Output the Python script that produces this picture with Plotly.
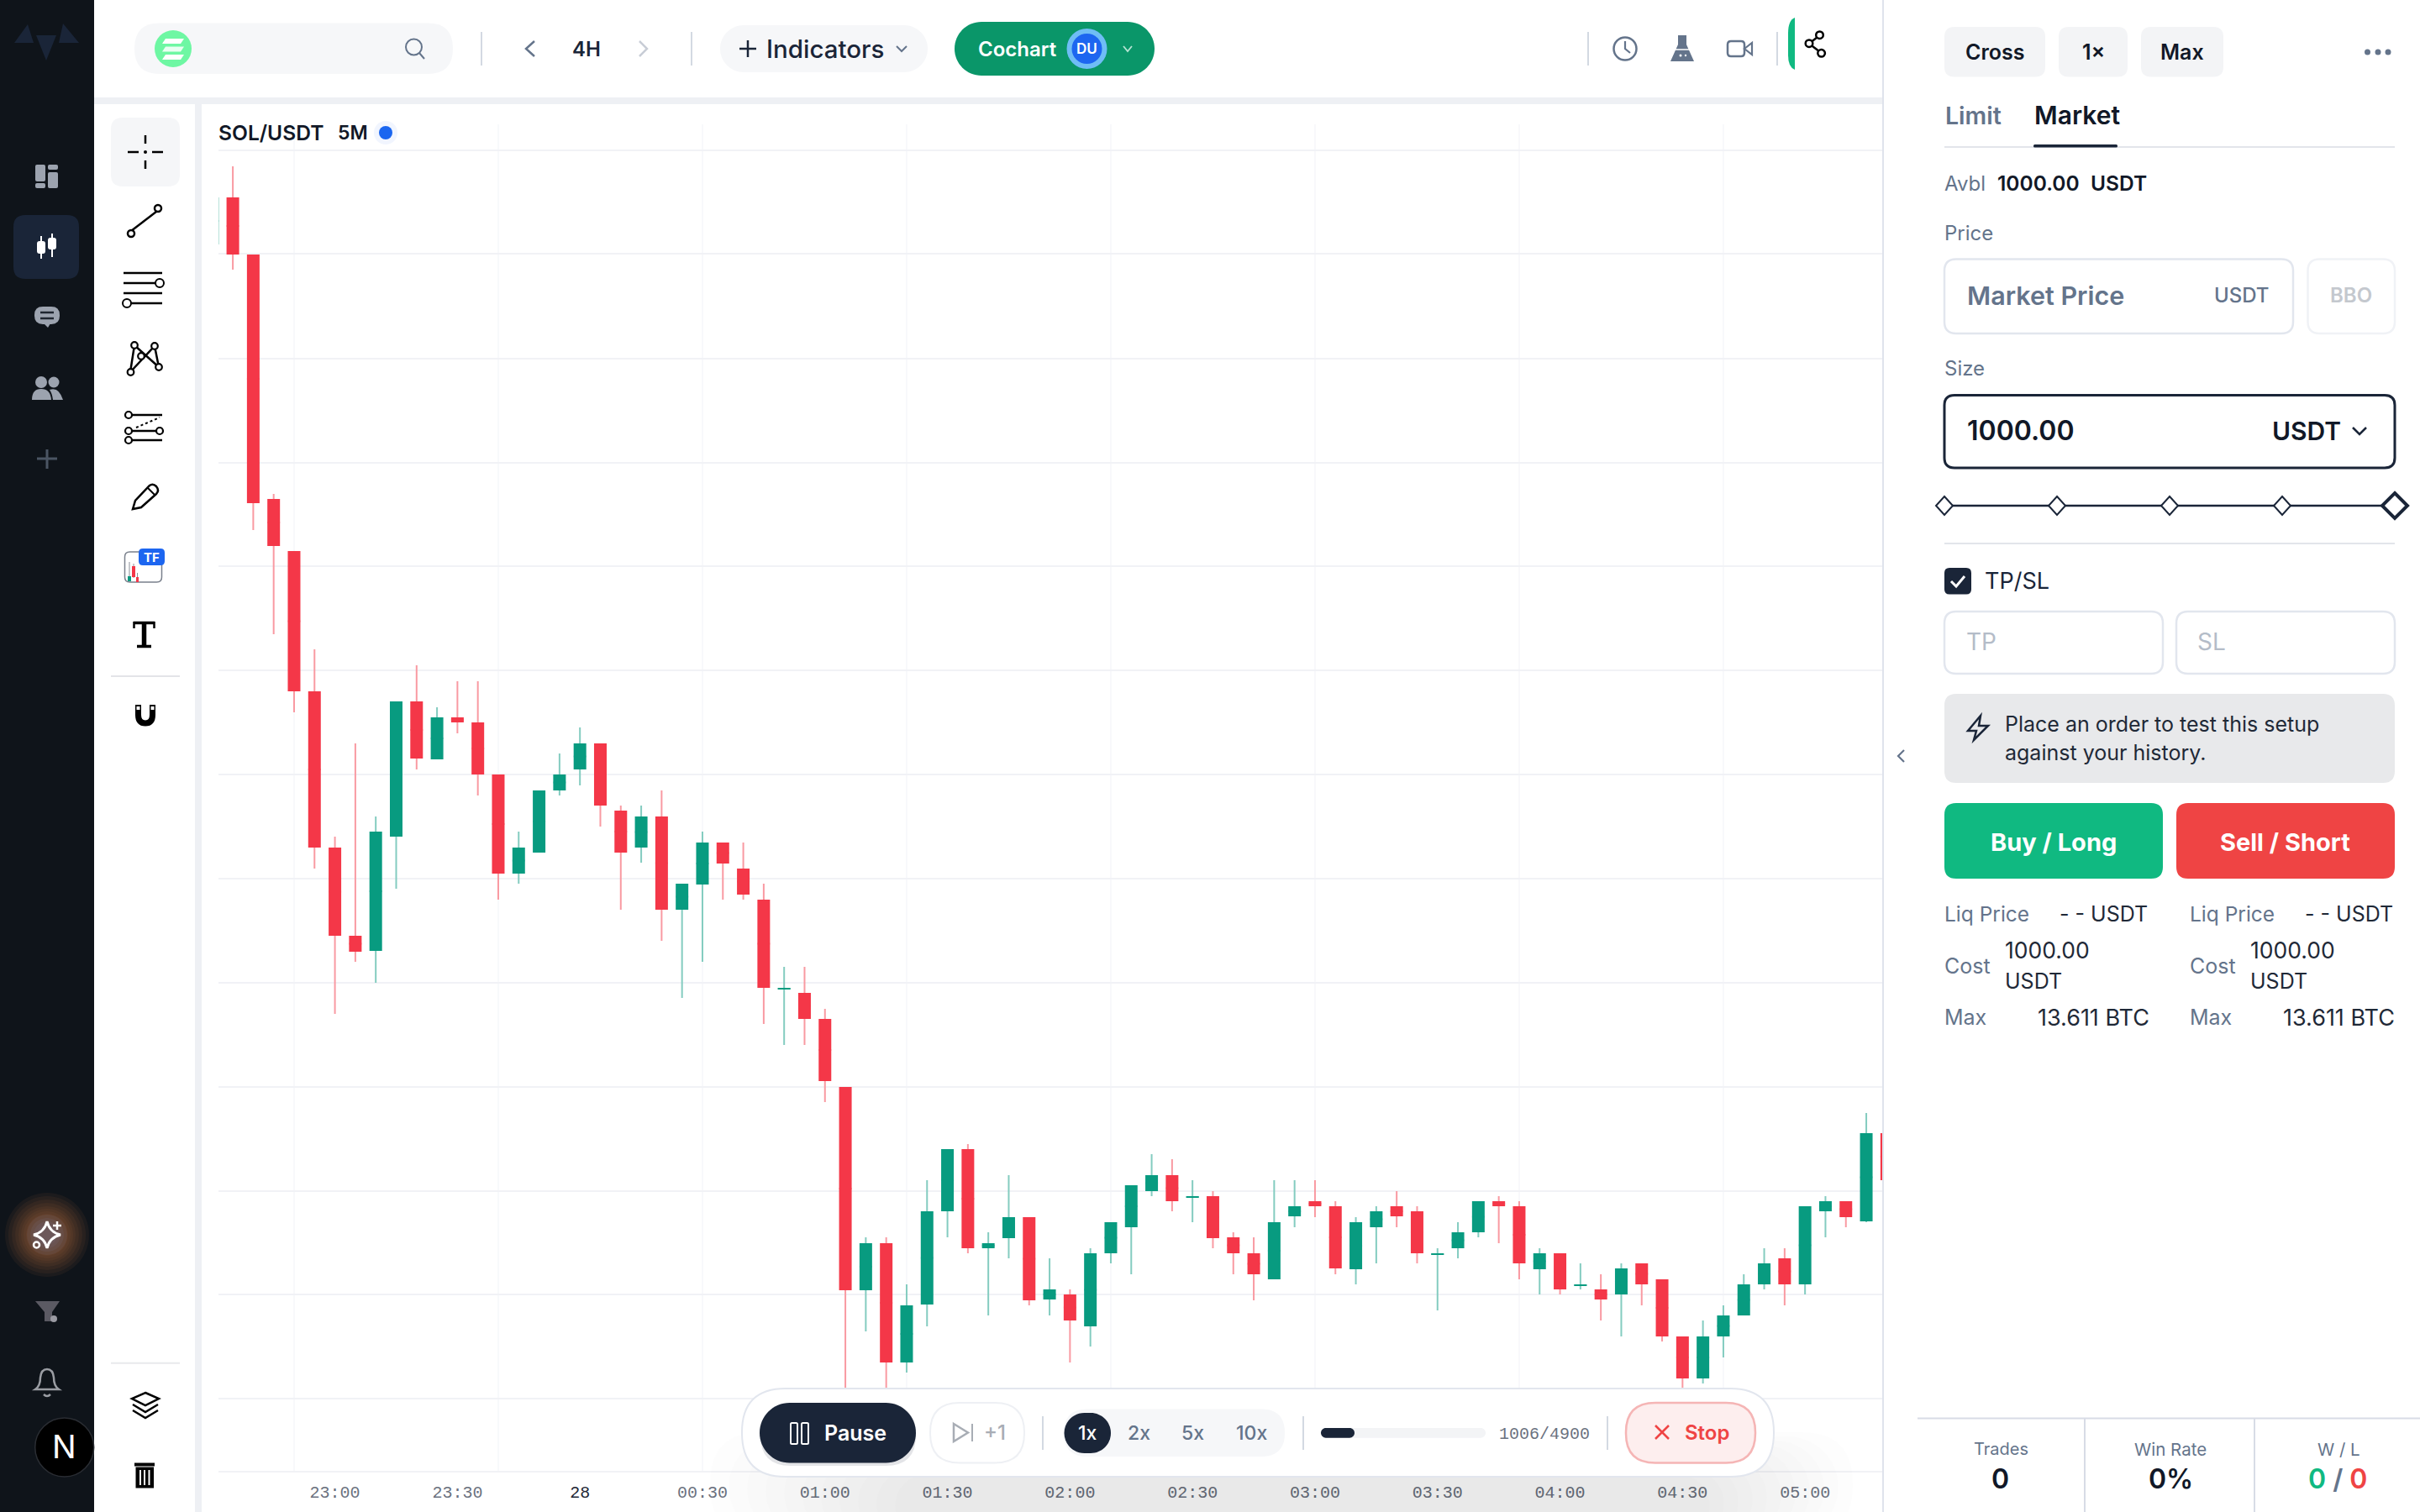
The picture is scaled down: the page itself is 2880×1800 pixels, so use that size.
import re
import pandas as pd
import plotly.graph_objects as go

W, H = 2880, 1800

# ---------- chart data ----------
start_time = "2025-01-27 22:30"
opens = [197.09,197.65,196.97,194.06,193.44,191.77,189.91,188.86,188.68,190.04,191.65,190.96,191.46,191.40,190.78,189.60,189.85,190.59,190.84,191.15,190.35,189.91,190.28,189.17,189.47,189.97,189.66,189.29,188.22,188.18,187.87,187.06,184.64,185.20,183.78,184.47,185.58,186.32,185.14,185.26,185.51,184.53,184.59,184.21,185.08,185.39,185.82,186.01,185.74,185.76,185.27,185.08,184.77,185.52,185.70,185.64,184.89,185.39,185.64,185.58,185.06,185.14,185.33,185.70,185.64,184.89,185.08,184.69,184.65,184.59,184.96,184.77,184.09,183.59,184.09,184.34,184.71,185.02,184.71,185.58,185.70,185.46,186.51]
highs = [197.65,198.02,196.97,194.12,193.44,192.27,190.04,191.15,190.28,191.65,192.08,191.58,191.89,191.89,190.78,190.10,190.59,191.03,191.34,191.15,190.41,190.41,190.59,189.48,190.10,189.97,189.97,189.48,188.49,188.49,187.99,187.06,185.27,185.27,184.71,185.95,186.32,186.38,185.33,186.01,185.51,185.02,184.65,185.14,185.45,185.89,186.26,186.20,185.95,185.82,185.33,185.27,185.95,185.95,185.95,185.70,185.51,185.64,185.82,185.64,185.14,185.45,185.70,185.76,185.70,185.14,185.08,184.96,184.83,184.96,184.96,184.77,184.09,184.28,184.46,184.83,185.14,185.14,185.64,185.76,185.70,186.75,186.51]
lows = [197.09,196.79,193.69,192.45,191.52,189.66,187.93,188.55,188.30,189.42,190.84,190.96,191.27,190.53,189.29,189.48,189.85,190.53,190.65,190.16,189.17,189.73,188.80,188.12,188.55,189.29,189.29,187.81,187.56,187.56,186.88,183.30,184.15,183.40,183.66,184.21,185.27,185.08,184.34,185.02,184.46,184.34,183.78,183.97,184.96,184.83,185.76,185.58,185.45,185.14,184.83,184.52,184.77,185.39,185.51,184.83,184.71,184.96,185.39,184.96,184.40,185.02,185.27,185.20,184.77,184.59,184.59,184.65,184.28,184.09,184.46,184.03,183.40,183.53,183.84,184.34,184.65,184.46,184.59,185.27,185.39,185.45,185.95]
closes = [197.65,196.97,194.01,193.50,191.77,189.91,188.86,188.67,190.10,191.65,190.97,191.46,191.40,190.78,189.60,189.91,190.59,190.78,191.15,190.41,189.85,190.28,189.17,189.48,189.97,189.72,189.35,188.24,188.24,187.87,187.13,184.64,185.20,183.78,184.46,185.58,186.32,185.14,185.20,185.51,184.52,184.65,184.28,185.08,185.45,185.89,186.01,185.70,185.76,185.26,185.08,184.83,185.45,185.64,185.64,184.90,185.45,185.58,185.52,185.08,185.08,185.33,185.70,185.64,184.96,185.08,184.65,184.71,184.53,184.90,184.71,184.09,183.59,184.09,184.34,184.71,184.96,184.71,185.64,185.70,185.51,186.51,185.95]
price_grid = [198.21,196.98,195.73,194.49,193.26,192.02,190.78,189.54,188.30,187.06,185.82,184.59,183.35,182.48]
time_grid = ["2025-01-27 22:50","2025-01-27 23:40","2025-01-28 00:30","2025-01-28 01:20","2025-01-28 02:10","2025-01-28 03:00","2025-01-28 03:50","2025-01-28 04:40"]
tick_times = ["2025-01-27 23:00","2025-01-27 23:30","2025-01-28 00:00","2025-01-28 00:30","2025-01-28 01:00","2025-01-28 01:30","2025-01-28 02:00","2025-01-28 02:30","2025-01-28 03:00","2025-01-28 03:30","2025-01-28 04:00","2025-01-28 04:30","2025-01-28 05:00"]
tick_labels = ["23:00","23:30",'<span style="color:#1f2937">28</span>',"00:30","01:00","01:30","02:00","02:30","03:00","03:30","04:00","04:30","05:00"]
times = [t.strftime("%Y-%m-%d %H:%M") for t in pd.date_range(start_time, periods=len(opens), freq="5min")]
body_mid = [(o + c) / 2 for o, c in zip(opens, closes)]

UP = "#089B80"
DOWN = "#F43748"
UP_WICK = "#84CCC0"
DOWN_WICK = "#F99AA2"
INK = "#1A2538"
SLATE = "#64748B"
LINE = "#E2E6EE"
SOFT = "#F6F7F9"
FONT = "Inter"

def fx(x): return x / W
def fy(y): return 1 - y / H

shapes = []
annots = []

def path_conv(d):
    toks = re.findall(r"[A-Za-z]|-?\d+\.?\d*", d)
    out, i = [], 0
    for t in toks:
        if t.isalpha():
            out.append(t)
        else:
            out.append(f"{fx(float(t)):.6f}" if i % 2 == 0 else f"{fy(float(t)):.6f}")
            i += 1
    return " ".join(out)

def PATH(d, fill=None, line=None, lw=0, layer="above"):
    shapes.append(dict(type="path", xref="paper", yref="paper", path=path_conv(d), layer=layer,
                       fillcolor=fill or "rgba(0,0,0,0)", line=dict(color=line or "rgba(0,0,0,0)", width=lw)))

def RECT(x0, y0, x1, y1, fill=None, line=None, lw=0):
    shapes.append(dict(type="rect", xref="paper", yref="paper", x0=fx(x0), x1=fx(x1), y0=fy(y1), y1=fy(y0), layer="above",
                       fillcolor=fill or "rgba(0,0,0,0)", line=dict(color=line or "rgba(0,0,0,0)", width=lw)))

def RR(x0, y0, x1, y1, r, fill=None, line=None, lw=0):
    r = min(r, (x1 - x0) / 2, (y1 - y0) / 2)
    d = (f"M {x0+r} {y0} L {x1-r} {y0} Q {x1} {y0} {x1} {y0+r} L {x1} {y1-r} Q {x1} {y1} {x1-r} {y1} "
         f"L {x0+r} {y1} Q {x0} {y1} {x0} {y1-r} L {x0} {y0+r} Q {x0} {y0} {x0+r} {y0} Z")
    if r >= (y1 - y0) / 2 - 0.01:
        k = 0.5523 * r
        d = (f"M {x0+r} {y0} L {x1-r} {y0} C {x1-r+k} {y0} {x1} {y0+r-k} {x1} {y0+r} C {x1} {y1-r+k} {x1-r+k} {y1} {x1-r} {y1} "
             f"L {x0+r} {y1} C {x0+r-k} {y1} {x0} {y1-r+k} {x0} {y0+r} C {x0} {y0+r-k} {x0+r-k} {y0} {x0+r} {y0} Z")
    PATH(d, fill, line, lw)

def CIRC(cx, cy, r, fill=None, line=None, lw=0):
    shapes.append(dict(type="circle", xref="paper", yref="paper", x0=fx(cx - r), x1=fx(cx + r), y0=fy(cy + r), y1=fy(cy - r), layer="above",
                       fillcolor=fill or "rgba(0,0,0,0)", line=dict(color=line or "rgba(0,0,0,0)", width=lw)))

def LN(x0, y0, x1, y1, color, lw=2, dash=None):
    ln = dict(color=color, width=lw)
    if dash: ln["dash"] = dash
    shapes.append(dict(type="line", xref="paper", yref="paper", x0=fx(x0), x1=fx(x1), y0=fy(y0), y1=fy(y1), layer="above", line=ln))

def TXT(x, y, s, size=24, color=INK, weight=400, anchor="left", font=FONT):
    annots.append(dict(xref="paper", yref="paper", x=fx(x), y=fy(y), text=s, showarrow=False, xanchor=anchor, yanchor="middle",
                       font=dict(family=font, size=size, color=color, weight=weight), borderpad=0, borderwidth=0))

# ---------- vertical grid, from the time list, on the chart's own axis ----------
for t in time_grid:
    shapes.append(dict(type="line", xref="x", yref="paper", x0=t, x1=t, y0=fy(1752), y1=fy(148), layer="below",
                       line=dict(color="#F6F7FA", width=1.5)))

# ---------- page frame ----------
RECT(0, 0, 112, 1800, fill="#0F141A")
RECT(112, 116, 2240, 124, fill="#EEF0F4")
RECT(232, 124, 240, 1800, fill="#EEF0F4")
RECT(2240, 0, 2242, 1800, fill="#DFE3EC")

# soft shadow of the replay bar
for k in range(11):
    RR(845 + k * 22, 1705 + k * 5, 2205 - k * 17, 1830, 60, fill="rgba(40,45,60,0.0095)")

# ---------- left sidebar ----------
for d in ["M 43 42 L 67 42 L 55 72 Z", "M 17 51 L 40 51 L 33 29 Z", "M 70 51 L 94 51 L 75 28 Z"]:
    PATH(d, fill="#1A2538")
RR(42, 196, 54, 216, 2, fill="#9CA3AF"); RR(42, 218, 54, 224, 2, fill="#9CA3AF")
RR(57, 196, 69, 202, 2, fill="#9CA3AF"); RR(57, 205, 69, 224, 2, fill="#9CA3AF")
RR(16, 256, 94, 332, 14, fill="#1A2538")
LN(49, 281, 49, 308, "#FFFFFF", 2); RR(44, 287, 54, 302, 3, fill="#FFFFFF")
LN(62, 278, 62, 306, "#FFFFFF", 2); RR(57, 283, 67, 297, 3, fill="#FFFFFF")
RR(41, 365, 71, 386, 10, fill="#9CA3AF"); PATH("M 52 385 L 60 385 L 57 390 Z", fill="#9CA3AF")
LN(48, 372, 64, 372, "#1F2630", 2.5); LN(48, 379, 64, 379, "#1F2630", 2.5)
CIRC(49, 455, 7, fill="#9CA3AF"); CIRC(64, 455, 6.5, fill="#9CA3AF")
PATH("M 38 476 Q 38 463 49 463 Q 60 463 61 476 Z", fill="#9CA3AF")
PATH("M 63 476 Q 62 468 59 464 Q 70 460 75 476 Z", fill="#9CA3AF")
LN(56, 535, 56, 558, "#4B5563", 3); LN(44, 546, 68, 546, "#4B5563", 3)
for r in [50, 46, 42, 38, 34, 31, 28, 25]:
    CIRC(56, 1470, r, fill="rgba(195,115,65,0.075)")
for r in [24, 20, 16, 12]:
    CIRC(56, 1470, r, fill="rgba(120,110,135,0.17)")
PATH("M 56 1454 Q 59 1467 72 1470 Q 59 1473 56 1486 Q 53 1473 40 1470 Q 53 1467 56 1454 Z", line="#FFFFFF", lw=3)
LN(68, 1454, 68, 1464, "#FFFFFF", 2.5); LN(63, 1459, 73, 1459, "#FFFFFF", 2.5)
CIRC(43.5, 1482, 3.5, line="#FFFFFF", lw=2.5)
PATH("M 42 1549 L 71 1549 L 62 1562 L 62 1573 L 53 1573 L 53 1562 Z", fill="#5B5A63")
CIRC(64, 1570, 4, fill="#9A9AA2")
PATH("M 42 1654 Q 48 1650 48 1640 Q 49 1630 56 1630 Q 63 1630 64 1640 Q 64 1650 70 1654 Z", line="#9A9DA3", lw=2.5)
PATH("M 52 1660 Q 56 1664 60 1660", line="#9A9DA3", lw=2.5)
CIRC(76.7, 1723, 35, fill="#000000", line="#2A2D33", lw=1.5)
TXT(76, 1722, "N", 38, "#FFFFFF", 400, "center")

# ---------- drawing toolbar ----------
BK = "#000000"
RR(132, 140, 214, 222, 14, fill="#F5F6F8")
LN(173, 161, 173, 171, BK, 2.5); LN(173, 191, 173, 201, BK, 2.5)
LN(152, 181, 165, 181, BK, 2.5); LN(181, 181, 194, 181, BK, 2.5); CIRC(173, 181, 2, fill=BK)
LN(156, 275, 186, 252, BK, 2.5)
CIRC(156, 278, 4, fill="#FFFFFF", line=BK, lw=2.5); CIRC(188, 248, 4, fill="#FFFFFF", line=BK, lw=2.5)
LN(147, 325, 193, 325, BK, 2.5); LN(147, 337, 186, 337, BK, 2.5); LN(147, 349, 193, 349, BK, 2.5); LN(156, 361, 193, 361, BK, 2.5)
CIRC(190, 337, 5, fill="#FFFFFF", line=BK, lw=2); CIRC(151, 361, 5, fill="#FFFFFF", line=BK, lw=2)
PATH("M 155 443 L 160 411 L 189 437 L 184 412 L 155 443", line=BK, lw=2.5)
for cx, cy in [(155.5, 443), (160, 411), (184, 412), (189, 437), (168, 424)]:
    CIRC(cx, cy, 3.8, fill="#FFFFFF", line=BK, lw=2.2)
LN(157, 494, 193, 494, BK, 2.5); LN(157, 513, 186, 513, BK, 2.5); LN(157, 524, 193, 524, BK, 2.5)
LN(162, 509, 190, 497, BK, 2, dash="dot")
for cx, cy in [(153, 494), (153, 513), (190, 513), (153, 524)]:
    CIRC(cx, cy, 4, fill="#FFFFFF", line=BK, lw=2.2)
PATH("M 158 606 L 161 596 L 178 578 Q 182 575 186 579 Q 190 584 186 588 L 168 604 Z", line=BK, lw=2.5)
LN(176, 581, 184, 589, BK, 2)
RR(148.5, 657, 192.5, 693, 6, line="#7A808C", lw=1.5)
LN(154, 669, 154, 692, "#8A8F99", 1); RECT(152, 686, 156, 692, fill=UP)
LN(159, 671, 159, 688, "#8A8F99", 1); RECT(157, 674, 161, 687, fill=DOWN)
LN(163.5, 682, 163.5, 693, "#8A8F99", 1); RECT(162, 687, 165, 693, fill=DOWN)
RR(165, 653, 196, 673, 5, fill="#1D66F0")
TXT(180.5, 663, "TF", 15, "#FFFFFF", 700, "center")
LN(159, 741.5, 184, 741.5, BK, 3.5); LN(159.5, 740, 159.5, 748, BK, 2.5); LN(183.5, 740, 183.5, 748, BK, 2.5)
LN(171.5, 741, 171.5, 769, BK, 5.5); LN(163, 769.5, 180, 769.5, BK, 3.5)
LN(132, 805, 214, 805, "#E3E4E8", 2)
PATH("M 164.5 839 L 164.5 851 Q 164.5 861 173 861 Q 181.5 861 181.5 851 L 181.5 839", line=BK, lw=7)
RECT(162.5, 841, 166.5, 845, fill="#FFFFFF"); RECT(179.5, 841, 183.5, 845, fill="#FFFFFF")
LN(132, 1622.7, 214, 1622.7, "#E8E9EC", 2)
PATH("M 173 1658 L 189 1665 L 173 1673 L 157 1665 Z", line=BK, lw=2.5)
PATH("M 158 1672 L 173 1681 L 188 1672", line=BK, lw=2.5)
PATH("M 158 1679 L 173 1688 L 188 1679", line=BK, lw=2.5)
RECT(160, 1741.5, 184, 1745.5, fill=BK)
RECT(161.5, 1746.5, 183, 1771.5, fill=BK)
for xx in [167, 172, 177.5]:
    LN(xx, 1750, xx, 1768, "#FFFFFF", 2)

# ---------- top bar ----------
RR(160, 27.5, 539, 88, 30, fill=SOFT)
CIRC(206, 58, 22, fill="#6EF7A3")
for yy in [46, 55.5, 65]:
    PATH(f"M {197} {yy} L {219} {yy} L {215} {yy+6} L {193} {yy+6} Z", fill="#FFFFFF" if yy != 55.5 else "#E9FFF2")
CIRC(492.5, 56, 9.5, line=SLATE, lw=2); LN(499, 63, 505, 70, SLATE, 2)
LN(573, 38, 573, 78, "#D3D9E2", 2)
PATH("M 636 49 L 626 58 L 636 67", line=SLATE, lw=2.5)
TXT(698, 58, "4H", 24, INK, 600, "center")
PATH("M 761 49 L 770 58 L 761 67", line="#C8CDD6", lw=2.5)
LN(823, 38, 823, 78, "#D3D9E2", 2)
RR(857, 30, 1104, 86, 28, fill=SOFT)
LN(890, 48, 890, 68, INK, 2.5); LN(880, 58, 900, 58, INK, 2.5)
TXT(912, 58, "Indicators", 29.5, INK, 500)
PATH("M 1067 55 L 1073 61 L 1079 55", line=SLATE, lw=2)
RR(1136, 26, 1374, 90, 32, fill="#0A9669")
TXT(1164, 58, "Cochart", 24, "#FFFFFF", 600)
CIRC(1293.5, 58, 24, fill="#6FBDF5"); CIRC(1293.5, 58, 18, fill="#1D66F0")
TXT(1293.5, 58, "DU", 17, "#FFFFFF", 600, "center")
PATH("M 1337 55 L 1342 61 L 1347 55", line="#B6E3D3", lw=1.8)
LN(1890, 38, 1890, 78, "#D3D9E2", 2)
CIRC(1934, 58, 13.5, line=SLATE, lw=2.5); PATH("M 1934 49 L 1934 58 L 1940 63", line=SLATE, lw=2.2)
PATH("M 1997 42 L 2007 42 L 2007 53 L 2016 73 L 1988 73 L 1997 53 Z", fill=SLATE)
LN(1992, 59, 2012, 59, "#FFFFFF", 1.5); CIRC(2000, 66, 1.5, fill="#FFFFFF"); CIRC(2006, 66, 1.2, fill="#FFFFFF")
RR(2056, 49, 2076, 67, 4, line=SLATE, lw=2.5); PATH("M 2076 58 L 2085 51 L 2085 65 Z", line=SLATE, lw=2.2)
LN(2115, 38, 2115, 78, "#D3D9E2", 2)
PATH("M 2136 21 Q 2128 24 2128 40 L 2128 66 Q 2128 80 2136 83 Z", fill="#10B981")
LN(2165.5, 42, 2153, 52, BK, 2.5); LN(2153, 52, 2167.5, 63, BK, 2.5)
CIRC(2165.5, 41.7, 4.3, fill="#FFFFFF", line=BK, lw=2.5); CIRC(2153, 51.7, 4.3, fill="#FFFFFF", line=BK, lw=2.5); CIRC(2167.6, 63.3, 4.3, fill="#FFFFFF", line=BK, lw=2.5)

# ---------- chart legend ----------
TXT(260, 158, "SOL/USDT", 24.6, "#111827", 600)
TXT(402, 158, "5M", 23, "#111827", 600)
CIRC(459, 158, 14, fill="#F1F5FE"); CIRC(459, 158, 8, fill="#1A66F0")

# ---------- replay bar ----------
RR(883, 1653, 2111, 1758, 52, fill="#FFFFFF", line="#E2E6EE", lw=2)
RR(905, 1672, 1090, 1745, 36, fill="rgba(26,37,56,0.12)")
RR(904, 1670, 1090, 1741.5, 35.75, fill=INK)
RR(941, 1694, 949, 1719, 1.5, line="#FFFFFF", lw=2); RR(954, 1694, 962, 1719, 1.5, line="#FFFFFF", lw=2)
TXT(981, 1705.5, "Pause", 25, "#FFFFFF", 600)
RR(1107, 1670, 1219, 1741.5, 35, fill="#FFFFFF", line="#EEF0F4", lw=2)
PATH("M 1135 1695 L 1152 1705.5 L 1135 1716 Z", line="#A8ADB5", lw=2.5); LN(1157, 1695, 1157, 1716, "#A8ADB5", 2)
TXT(1171, 1705.5, "+1", 24, "#A8ADB5", 500)
LN(1241, 1686, 1241, 1726, "#D3D9E2", 2)
RR(1266, 1677.6, 1529, 1734, 28, fill=SOFT)
RR(1266.5, 1682, 1322, 1730, 24, fill=INK)
TXT(1294, 1706, "1x", 23, "#FFFFFF", 500, "center")
TXT(1355, 1706, "2x", 23, SLATE, 500, "center")
TXT(1419, 1706, "5x", 23, SLATE, 500, "center")
TXT(1489, 1706, "10x", 23, SLATE, 500, "center")
LN(1551, 1686, 1551, 1726, "#D3D9E2", 2)
RR(1572, 1700, 1768, 1711.7, 6, fill="#F3F4F6")
RR(1572, 1700, 1612, 1711.7, 6, fill=INK)
TXT(1783.5, 1707, "1006/4900", 20, "#6B7280", 400, "left", "Liberation Mono")
LN(1913, 1686, 1913, 1726, "#D3D9E2", 2)
RR(1935, 1670, 2089, 1741.5, 35, fill="#FDEEEE", line="#F5B5B5", lw=2.5)
LN(1970, 1697, 1986, 1713, "#EF4444", 2.5); LN(1986, 1697, 1970, 1713, "#EF4444", 2.5)
TXT(2005, 1705.5, "Stop", 24, "#EF4444", 600)

# ---------- order panel ----------
for x0, x1, s in [(2314, 2434, "Cross"), (2450, 2532, "1×"), (2548, 2646, "Max")]:
    RR(x0, 32, x1, 91.5, 12, fill="#F3F4F6")
    TXT((x0 + x1) / 2, 62, s, 25, "#111827", 600, "center")
for cx in [2817.5, 2830, 2842]:
    CIRC(cx, 62, 3.5, fill=SLATE)
TXT(2315, 137.5, "Limit", 28.5, SLATE, 600)
TXT(2421, 137.5, "Market", 30, "#111827", 600)
LN(2314, 175, 2850, 175, "#E2E5EA", 2)
RR(2420, 172, 2520, 175.5, 1.5, fill=INK)
TXT(2314, 218, "Avbl", 24, SLATE, 400)
TXT(2376.5, 218, "1000.00", 24.5, "#111827", 600)
TXT(2488, 218, "USDT", 24.5, "#111827", 600)
TXT(2314, 278, "Price", 24, SLATE, 400)
RR(2314, 308.5, 2729, 397, 14, fill="#FFFFFF", line=LINE, lw=2.5)
TXT(2341, 351, "Market Price", 30.5, SLATE, 600)
TXT(2635, 351, "USDT", 24, SLATE, 500)
RR(2746.5, 308.5, 2850, 397, 14, fill="#FFFFFF", line="#F0F2F6", lw=2.5)
TXT(2798, 351, "BBO", 24, "#C4C8CE", 600, "center")
TXT(2314, 439, "Size", 24, SLATE, 400)
RR(2314, 470.5, 2850, 557, 12, fill="#FFFFFF", line=INK, lw=3)
TXT(2341, 513, "1000.00", 32, "#111827", 600)
TXT(2704, 513, "USDT", 30, "#111827", 600)
PATH("M 2800 509 L 2808 517 L 2816 509", line=INK, lw=2.5)
LN(2314, 602, 2850, 602, INK, 2.5)
for cx in [2314, 2448, 2582, 2716]:
    PATH(f"M {cx} 591 L {cx+10} 602 L {cx} 613 L {cx-10} 602 Z", fill="#FFFFFF", line=INK, lw=2)
PATH("M 2850 587 L 2865 602 L 2850 617 L 2835 602 Z", fill="#FFFFFF", line=INK, lw=4)
LN(2314, 647, 2850, 647, "#E2E5EA", 2)
RR(2314, 676, 2346, 707.5, 6, fill=INK)
PATH("M 2322 692 L 2328 698 L 2338 686", line="#FFFFFF", lw=3)
TXT(2362, 691, "TP/SL", 27, INK, 400)
RR(2314, 728, 2574, 802, 14, fill="#FFFFFF", line=LINE, lw=2.5)
TXT(2340, 764, "TP", 28, "#B4BCC8", 400)
RR(2590, 728, 2850, 802, 14, fill="#FFFFFF", line=LINE, lw=2.5)
TXT(2615, 764, "SL", 28, "#B4BCC8", 400)
RR(2314, 826, 2850, 932, 14, fill="#E8E9EB")
PATH("M 2357 852 L 2342 870 L 2352 870 L 2349 881 L 2366 864 L 2355 864 Z", line=INK, lw=2.5)
TXT(2386, 862, "Place an order to test this setup", 25, "#1F2937", 400)
TXT(2386, 896, "against your history.", 25, "#1F2937", 400)
PATH("M 2266 893 L 2259 900 L 2266 907", line=SLATE, lw=2.2)
RR(2314, 956, 2574, 1046, 14, fill="#10B981")
TXT(2444, 1002, "Buy / Long", 29, "#FFFFFF", 700, "center")
RR(2590, 956, 2850, 1046, 14, fill="#EF4444")
TXT(2719, 1002, "Sell / Short", 29, "#FFFFFF", 700, "center")
for lx, vx, rx, rx2 in [(2315, 2387, 2556, 2558), (2607, 2679, 2848, 2850)]:
    TXT(lx - 1, 1088, "Liq Price", 24.5, SLATE, 400)
    TXT(rx, 1088, "- - USDT", 25, "#1F2937", 400, "right")
    TXT(lx - 1, 1150, "Cost", 25, SLATE, 400)
    TXT(vx - 1, 1131, "1000.00", 26.5, "#1F2937", 400)
    TXT(vx - 1, 1167.5, "USDT", 25, "#1F2937", 400)
    TXT(lx - 1, 1211, "Max", 25, SLATE, 400)
    TXT(rx2, 1211, "13.611 BTC", 27, "#1F2937", 400, "right")
LN(2282, 1688.6, 2880, 1688.6, "#D8DCE6", 2)
LN(2481, 1688.6, 2481, 1800, "#D8DCE6", 2); LN(2683, 1688.6, 2683, 1800, "#D8DCE6", 2)
TXT(2381, 1725, "Trades", 20, SLATE, 400, "center")
TXT(2380, 1760, "0", 32, "#111827", 600, "center")
TXT(2583, 1725, "Win Rate", 20.5, SLATE, 400, "center")
TXT(2583, 1760, "0%", 32, "#111827", 600, "center")
TXT(2783, 1725, "W / L", 20.5, SLATE, 400, "center")
TXT(2782, 1760, '<span style="color:#10B981">0</span> <span style="color:#64748B">/</span> <span style="color:#EF4444">0</span>', 32, "#111827", 600, "center")

# ---------- candles ----------
fig = go.Figure()
fig.add_trace(go.Candlestick(x=times, open=body_mid, high=highs, low=lows, close=body_mid, name="wick",
                             increasing=dict(line=dict(color=UP_WICK, width=2), fillcolor="rgba(0,0,0,0)"),
                             decreasing=dict(line=dict(color=DOWN_WICK, width=2), fillcolor="rgba(0,0,0,0)"),
                             whiskerwidth=0, showlegend=False, hoverinfo="skip"))
# per-candle wick colour: candles in the wick trace share a flat body, so colour them by direction
fig.data[0].update(increasing=dict(line=dict(color="rgba(0,0,0,0)", width=0)), decreasing=dict(line=dict(color="rgba(0,0,0,0)", width=0)))
fig = go.Figure()
up_idx = [i for i in range(len(opens)) if closes[i] >= opens[i]]
dn_idx = [i for i in range(len(opens)) if closes[i] < opens[i]]
for idx, col in [(up_idx, UP_WICK), (dn_idx, DOWN_WICK)]:
    fig.add_trace(go.Candlestick(x=[times[i] for i in idx], open=[body_mid[i] for i in idx], high=[highs[i] for i in idx],
                                 low=[lows[i] for i in idx], close=[body_mid[i] for i in idx],
                                 increasing=dict(line=dict(color=col, width=2), fillcolor="rgba(0,0,0,0)"),
                                 decreasing=dict(line=dict(color=col, width=2), fillcolor="rgba(0,0,0,0)"),
                                 whiskerwidth=0, showlegend=False, hoverinfo="skip"))
fig.add_trace(go.Candlestick(x=times, open=opens, high=opens, low=closes, close=closes, name="SOL/USDT 5M",
                             increasing=dict(line=dict(color=UP, width=0), fillcolor=UP),
                             decreasing=dict(line=dict(color=DOWN, width=0), fillcolor=DOWN),
                             whiskerwidth=0, showlegend=False))

fig.update_layout(
    width=W, height=H, autosize=False, margin=dict(l=0, r=0, t=0, b=0),
    paper_bgcolor="#FFFFFF", plot_bgcolor="#FFFFFF", showlegend=False,
    boxgap=0.383, boxgroupgap=0, boxmode="overlay",
    xaxis=dict(domain=[fx(260), fx(2240)], type="date",
               range=["2025-01-27 22:31:29", "2025-01-28 05:18:54"],
               rangeslider=dict(visible=False), showgrid=False, zeroline=False, showline=False, ticks="",
               tickmode="array", tickvals=tick_times, ticktext=tick_labels, tickangle=0, ticklabelstandoff=4,
               tickfont=dict(family="Liberation Mono", size=20, color="#6B7280")),
    yaxis=dict(domain=[fy(1758), fy(148)], range=[182.42, 198.52], tickmode="array", tickvals=price_grid,
               showticklabels=False, ticks="", showgrid=True, gridcolor="#F1F2F6", gridwidth=2, zeroline=False, showline=False),
    shapes=shapes, annotations=annots,
)

fig.write_html("out.html", config=dict(displayModeBar=False),
               post_script="document.body.style.margin='0';document.documentElement.style.overflow='hidden';")
